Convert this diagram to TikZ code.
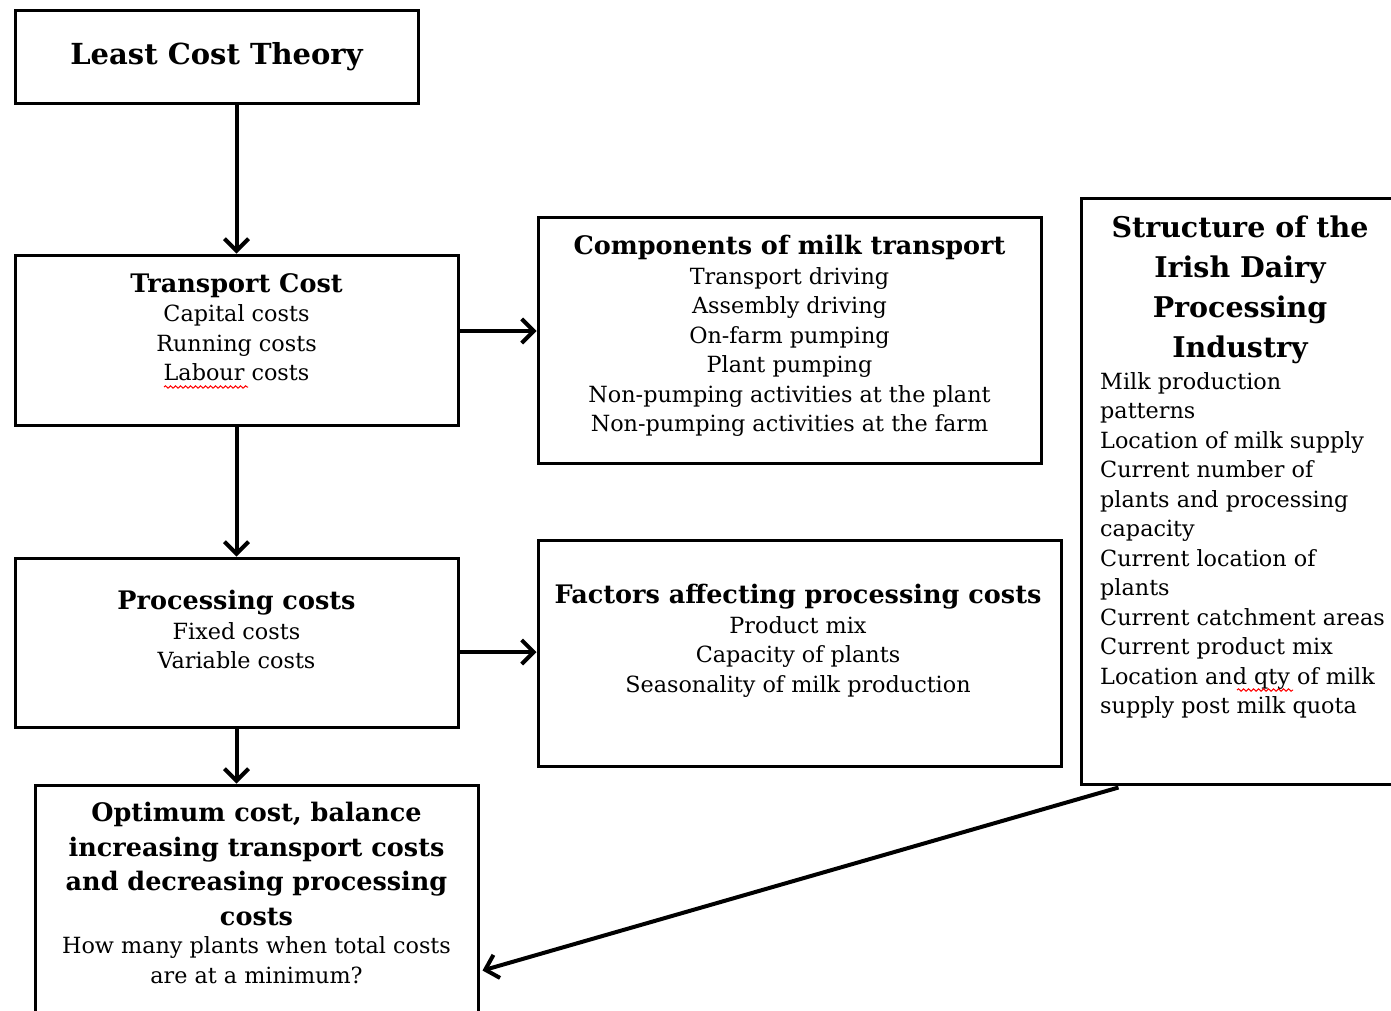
\documentclass[tikz,border=0pt]{standalone}
\usepackage{fontspec}
\setmainfont{DejaVu Serif}
\usetikzlibrary{arrows.meta,calc,decorations.pathmorphing}
\newcommand\TitleFont{\fontsize{25.5}{31}\selectfont\bfseries}
\newcommand\BodyFont{\fontsize{22.3}{29.5}\selectfont}
\begin{document}
\begin{tikzpicture}[x=1pt,y=-1pt,
  box/.style={draw,line width=3pt,inner sep=0pt},
  txt/.style={inner sep=0pt,align=center,font=\BodyFont},
  conn/.style={line width=4pt,-{Straight Barb[length=12pt,width=24pt]}},
  squig/.style={red,line width=1pt,decorate,decoration={snake,segment length=5pt,amplitude=1.2pt}}]
\useasboundingbox (0,0) rectangle (1391,1010);
\clip (0,0) rectangle (1391,1010);
% boxes
\node[box,minimum width=403pt,minimum height=93pt,font={\fontsize{29}{34}\selectfont\bfseries}] (b1) at (216.5,56.5) {Least Cost Theory};
\node[box,minimum width=443pt,minimum height=170pt] (b2) at (236.5,340) {};
\node[box,minimum width=503pt,minimum height=246pt] (b3) at (789.5,340) {};
\node[box,minimum width=443pt,minimum height=169pt] (b4) at (236.5,642.5) {};
\node[box,minimum width=523pt,minimum height=226pt] (b5) at (799.5,653) {};
\node[box,minimum width=443pt,minimum height=240pt] (b6) at (256.5,905) {};
\node[box,minimum width=320pt,minimum height=586pt] (b7) at (1241,491) {};
% texts
\node[txt,anchor=north] (t2) at (236.5,273) {{\TitleFont Transport Cost}\\ Capital costs\\ Running costs\\ Labour costs};
\node[txt,anchor=north] (t3) at (789.5,235) {{\TitleFont Components of milk transport}\\ Transport driving\\ Assembly driving\\ On-farm pumping\\ Plant pumping\\ Non-pumping activities at the plant\\ Non-pumping activities at the farm};
\node[txt,anchor=north] (t4) at (236.5,590) {{\TitleFont Processing costs}\\ Fixed costs\\ Variable costs};
\node[txt,anchor=north] (t5) at (798,584) {{\TitleFont Factors affecting processing costs}\\ Product mix\\ Capacity of plants\\ Seasonality of milk production};
\node[txt,anchor=north,font={\fontsize{25.5}{34.5}\selectfont\bfseries}] (t6a) at (256.5,802) {Optimum cost, balance\\ increasing transport costs\\ and decreasing processing\\ costs};
\node[txt,anchor=north,font={\fontsize{22.3}{30}\selectfont}] (t6b) at (256.5,936) {How many plants when total costs\\ are at a minimum?};
\node[txt,anchor=north,font={\fontsize{28.5}{40}\selectfont\bfseries}] (t7a) at (1240,216) {Structure of the\\ Irish Dairy\\ Processing\\ Industry};
\node[txt,anchor=north west,align=left] (t7b) at (1100,372) {Milk production\\ patterns\\ Location of milk supply\\ Current number of\\ plants and processing\\ capacity\\ Current location of\\ plants\\ Current catchment areas\\ Current product mix\\ Location and qty of milk\\ supply post milk quota};
% connectors
\draw[conn] (b1.south -| b2.north) -- (b2.north);
\draw[conn] (b2.south) -- (b4.north);
\draw[conn] (b4.south) -- (b4.south |- b6.north);
\draw[conn] ($(b2.east)+(0,-9)$) -- ($(b2.east -| b3.west)+(0,-9)$);
\draw[conn] ($(b4.east)+(0,9.5)$) -- ($(b4.east -| b5.west)+(0,9.5)$);
\coordinate (s7) at ($(b7.south west)+(39,2)$);
\draw[conn] (s7) -- ($(b6.north east)+(3,187)$);
% spelling marks
\draw[squig] (164,387) -- (248,387);
\draw[squig] (1237,690) -- (1293,690);
\end{tikzpicture}
\end{document}
